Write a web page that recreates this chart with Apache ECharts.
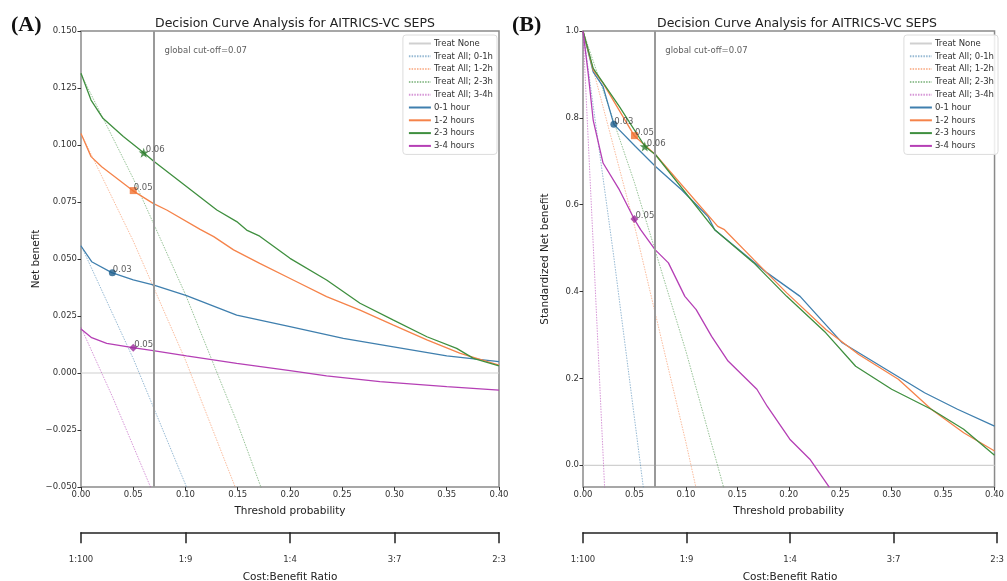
<!DOCTYPE html>
<html>
<head>
<meta charset="utf-8">
<script src="https://cdn.jsdelivr.net/npm/echarts@6/dist/echarts.min.js"></script>
<style>html,body{margin:0;padding:0;background:#fff}#c{width:1007px;height:581px}</style>
</head>
<body>
<div id="c"></div>
<script>
// ---------- data ----------
const seriesNames = ['0-1 hour', '1-2 hours', '2-3 hours', '3-4 hours'];
const treatAllNames = ['Treat All; 0-1h', 'Treat All; 1-2h', 'Treat All; 2-3h', 'Treat All; 3-4h'];
const cutoff = 0.07;
const ratioTicks = [0, 0.1, 0.2, 0.3, 0.4];
const ratioLabels = ['1:100', '1:9', '1:4', '3:7', '2:3'];

// Panel A: net benefit
const nb01 = [[0,0.0557],[0.0102,0.0488],[0.0294,0.044],[0.05,0.0408],[0.069,0.0386],[0.101,0.0339],[0.149,0.0254],[0.2,0.0203],[0.251,0.0152],[0.299,0.0115],[0.35,0.0075],[0.4,0.005]];
const nb12 = [[0,0.105],[0.0096,0.0949],[0.0198,0.0905],[0.0495,0.080],[0.069,0.0744],[0.082,0.0715],[0.114,0.063],[0.127,0.0598],[0.146,0.054],[0.171,0.0481],[0.203,0.0408],[0.235,0.0335],[0.267,0.0276],[0.299,0.021],[0.331,0.0145],[0.363,0.0086],[0.4,0.0035]];
const nb23 = [[0,0.1315],[0.0096,0.1197],[0.021,0.1117],[0.0405,0.1037],[0.06,0.0966],[0.069,0.0931],[0.13,0.0715],[0.149,0.0664],[0.1585,0.0627],[0.171,0.060],[0.2,0.0503],[0.235,0.0408],[0.267,0.0306],[0.299,0.0232],[0.331,0.0159],[0.3595,0.0108],[0.3755,0.0064],[0.4,0.0031]];
const nb34 = [[0,0.0193],[0.0102,0.0155],[0.0246,0.013],[0.0495,0.0111],[0.069,0.0098],[0.101,0.0075],[0.149,0.0042],[0.2,0.001],[0.235,-0.0013],[0.286,-0.0038],[0.35,-0.006],[0.4,-0.0075]];
const taA01 = [[0,0.056],[0.05,0.0063],[0.10,-0.0489],[0.11,-0.0607]];
const taA12 = [[0,0.105],[0.05,0.0579],[0.10,0.0056],[0.15,-0.0529]];
const taA23 = [[0,0.131],[0.05,0.0853],[0.10,0.0344],[0.15,-0.0224],[0.18,-0.0598]];
const taA34 = [[0,0.02],[0.03,-0.0103],[0.07,-0.0538]];
const markA = [[0.03,0.044,'0.03'],[0.05,0.080,'0.05'],[0.06,0.0966,'0.06'],[0.05,0.0111,'0.05']];

// Panel B: standardized net benefit
const sb01 = [[0,1.0],[0.0099,0.906],[0.0195,0.872],[0.030,0.785],[0.051,0.734],[0.0705,0.688],[0.096,0.634],[0.1215,0.573],[0.128,0.5425],[0.179,0.443],[0.211,0.389],[0.252,0.282],[0.300,0.213],[0.332,0.167],[0.364,0.129],[0.40,0.09]];
const sb12 = [[0,1.0],[0.0099,0.910],[0.0195,0.880],[0.0498,0.759],[0.0705,0.715],[0.131,0.55],[0.1375,0.5425],[0.166,0.4736],[0.198,0.397],[0.236,0.3126],[0.268,0.255],[0.3065,0.198],[0.3385,0.129],[0.37,0.075],[0.40,0.033]];
const sb23 = [[0,1.0],[0.0099,0.914],[0.0354,0.826],[0.0603,0.734],[0.0705,0.715],[0.128,0.5425],[0.166,0.466],[0.198,0.389],[0.236,0.305],[0.265,0.228],[0.30,0.175],[0.3385,0.129],[0.37,0.083],[0.40,0.023]];
const sb34 = [[0,1.0],[0.005,0.903],[0.0099,0.795],[0.0195,0.696],[0.0354,0.634],[0.0498,0.567],[0.056,0.5425],[0.07,0.4966],[0.083,0.466],[0.099,0.389],[0.110,0.3586],[0.125,0.297],[0.141,0.24],[0.169,0.175],[0.179,0.136],[0.201,0.06],[0.2205,0.014],[0.2395,-0.051]];
const taB01 = [[0,1.0],[0.03,0.479],[0.06,-0.076]];
const taB12 = [[0,1.0],[0.05,0.552],[0.10,0.053],[0.115,-0.107]];
const taB23 = [[0,1.0],[0.05,0.651],[0.10,0.263],[0.14,-0.079]];
const taB34 = [[0,1.0],[0.01,0.505],[0.021,-0.051],[0.022,-0.10]];
const markB = [[0.03,0.785,'0.03'],[0.05,0.759,'0.05'],[0.06,0.734,'0.06'],[0.05,0.567,'0.05']];

const yTicksB = [0, 0.2, 0.4, 0.6, 0.8, 1.0];

// ---------- styles ----------
const FONT = 'DejaVu Sans';
const colors = ['#3f7fae', '#f5834a', '#3f8f3f', '#b53fb5'];
const markColors = ['#1f5f8c', '#f07030', '#2a7a2a', '#9a2a9a'];
const markSymbols = ['circle', 'rect', 'path://M0,-10 L2.35,-3.24 L9.51,-3.09 L3.8,1.24 L5.88,8.09 L0,4 L-5.88,8.09 L-3.8,1.24 L-9.51,-3.09 L-2.35,-3.24 Z', 'diamond'];
const markSizes = [7, 7, 10, 8];
const tickColor = '#333';

function mainX(gi) {
  return {
    gridIndex: gi, type: 'value', min: 0, max: 0.4, interval: 0.05,
    name: 'Threshold probability', nameLocation: 'middle', nameGap: 19,
    nameTextStyle: { fontFamily: FONT, fontSize: 10.5, color: '#222' },
    axisLine: { show: false, onZero: false },
    axisTick: { show: true, length: 3.5, lineStyle: { color: tickColor } },
    axisLabel: { fontFamily: FONT, fontSize: 8.5, color: '#333', margin: 3, formatter: v => v.toFixed(2) },
    splitLine: { show: false }
  };
}
function ratioX(gi) {
  return {
    gridIndex: gi, type: 'value', min: 0, max: 0.4, interval: 0.1, position: 'bottom',
    name: 'Cost:Benefit Ratio', nameLocation: 'middle', nameGap: 40,
    nameTextStyle: { fontFamily: FONT, fontSize: 10.5, color: '#222' },
    axisLine: { show: true, onZero: false, lineStyle: { color: '#222', width: 1.5 } },
    axisTick: { show: true, length: 11, lineStyle: { color: '#222', width: 1.5 } },
    axisLabel: { fontFamily: FONT, fontSize: 8.5, color: '#333', margin: 23,
      formatter: v => { const i = ratioTicks.findIndex(t => Math.abs(t - v) < 1e-9); return i >= 0 ? ratioLabels[i] : ''; } },
    splitLine: { show: false }
  };
}

const grids = [
  { left: 81, top: 31, width: 418, height: 456, show: true, borderColor: '#8a8a8a', borderWidth: 1.5, backgroundColor: 'transparent' },
  { left: 583, top: 31, width: 418, height: 456, show: true, borderColor: '#8a8a8a', borderWidth: 1.5, backgroundColor: 'transparent' },
  { left: 81, top: 532, width: 418, height: 1 },
  { left: 583, top: 532, width: 418, height: 1 }
];

const xAxes = [mainX(0), mainX(1), ratioX(2), ratioX(3)];
const yAxes = [
  { gridIndex: 0, type: 'value', min: -0.05, max: 0.15, interval: 0.025,
    name: 'Net benefit', nameLocation: 'middle', nameGap: 39,
    nameTextStyle: { fontFamily: FONT, fontSize: 10.5, color: '#222' },
    axisLine: { show: false, onZero: false }, splitLine: { show: false },
    axisTick: { show: true, length: 3.5, lineStyle: { color: tickColor } },
    axisLabel: { fontFamily: FONT, fontSize: 8.5, color: '#333', margin: 4,
      formatter: v => (v < 0 ? '\u2212' + Math.abs(v).toFixed(3) : v.toFixed(3)) } },
  { gridIndex: 1, type: 'value', min: -0.05, max: 1.0,
    name: 'Standardized Net benefit', nameLocation: 'middle', nameGap: 32,
    nameTextStyle: { fontFamily: FONT, fontSize: 10.5, color: '#222' },
    axisLine: { show: false, onZero: false }, splitLine: { show: false },
    axisTick: { show: true, length: 3.5, lineStyle: { color: tickColor }, customValues: yTicksB },
    axisLabel: { fontFamily: FONT, fontSize: 8.5, color: '#333', margin: 4, customValues: yTicksB,
      formatter: v => v.toFixed(1) } },
  { gridIndex: 2, type: 'value', show: false },
  { gridIndex: 3, type: 'value', show: false }
];

const series = [];
function addPanel(gi, mains, treats, marks, cutLabelPos) {
  series.push({ name: 'Treat None', type: 'line', xAxisIndex: gi, yAxisIndex: gi, data: [[0,0],[0.4,0]],
    symbol: 'none', lineStyle: { color: '#d0d0d0', width: 1.2 }, itemStyle: { color: '#d0d0d0' }, silent: true, z: 1 });
  treats.forEach((d, i) => series.push({ name: treatAllNames[i], type: 'line', xAxisIndex: gi, yAxisIndex: gi, data: d,
    symbol: 'none', clip: true, lineStyle: { color: colors[i], width: 1, type: [1.5, 1.2], opacity: 0.55 },
    itemStyle: { color: colors[i], opacity: 0.55 }, z: 2 }));
  mains.forEach((d, i) => series.push({ name: seriesNames[i], type: 'line', xAxisIndex: gi, yAxisIndex: gi, data: d,
    symbol: 'none', clip: true, lineStyle: { color: colors[i], width: 1.3 }, itemStyle: { color: colors[i] }, z: 3 }));
  // cut-off vertical line
  series.push({ type: 'line', xAxisIndex: gi, yAxisIndex: gi, data: [], silent: true,
    markLine: { silent: true, symbol: 'none', label: { show: false },
      lineStyle: { color: '#999', width: 2, type: 'solid' }, data: [{ xAxis: cutoff }] }, z: 2 });
  // cut-off text
  series.push({ type: 'scatter', xAxisIndex: gi, yAxisIndex: gi, data: [cutLabelPos], symbolSize: 0, silent: true,
    label: { show: true, position: 'right', distance: 0, formatter: 'global cut-off=' + cutoff,
      fontFamily: FONT, fontSize: 8.5, color: '#333' }, z: 5 });
  // optimal threshold markers
  marks.forEach((m, i) => series.push({ type: 'scatter', xAxisIndex: gi, yAxisIndex: gi, data: [m],
    symbol: markSymbols[i], symbolSize: markSizes[i], itemStyle: { color: markColors[i] }, silent: true,
    label: { show: true, position: 'right', distance: -3, offset: [0, -3], formatter: p => p.data[2],
      fontFamily: FONT, fontSize: 8.5, color: '#333' }, z: 6 }));
}
addPanel(0, [nb01, nb12, nb23, nb34], [taA01, taA12, taA23, taA34], markA, [0.080, 0.1415]);
addPanel(1, [sb01, sb12, sb23, sb34], [taB01, taB12, taB23, taB34], markB, [0.080, 0.955]);
// dummy series for ratio axes
series.push({ type: 'line', xAxisIndex: 2, yAxisIndex: 2, data: [], silent: true });
series.push({ type: 'line', xAxisIndex: 3, yAxisIndex: 3, data: [], silent: true });

const legendNames = ['Treat None'].concat(treatAllNames, seriesNames);
function legend(right) {
  return { orient: 'vertical', right: right, top: 35, data: legendNames, itemWidth: 22, itemHeight: 8, itemGap: 3.8,
    padding: [4, 4, 4, 5], borderColor: '#dcdcdc', borderWidth: 1, borderRadius: 3, backgroundColor: 'rgba(255,255,255,0.85)',
    selectedMode: false,
    itemStyle: { color: 'rgba(0,0,0,0)', borderWidth: 0, opacity: 0 },
    textStyle: { fontFamily: FONT, fontSize: 8.5, color: '#333', padding: [0, 0, 0, -2] } };
}

const option = {
  animation: false,
  title: [
    { text: 'Decision Curve Analysis for AITRICS-VC SEPS', left: 290, top: 12, textAlign: 'center',
      textStyle: { fontFamily: FONT, fontSize: 12.5, fontWeight: 'normal', color: '#222' } },
    { text: 'Decision Curve Analysis for AITRICS-VC SEPS', left: 792, top: 12, textAlign: 'center',
      textStyle: { fontFamily: FONT, fontSize: 12.5, fontWeight: 'normal', color: '#222' } },
    { text: '(A)', left: 6, top: 9, textStyle: { fontFamily: 'Liberation Serif', fontSize: 22, fontWeight: 'bold', color: '#111' } },
    { text: '(B)', left: 507, top: 9, textStyle: { fontFamily: 'Liberation Serif', fontSize: 22, fontWeight: 'bold', color: '#111' } }
  ],
  legend: [legend(1007 - 497), legend(1007 - 998)],
  grid: grids, xAxis: xAxes, yAxis: yAxes, series: series
};
const chart = echarts.init(document.getElementById('c'), null, { renderer: 'canvas' });
chart.setOption(option);
</script>
</body>
</html>
